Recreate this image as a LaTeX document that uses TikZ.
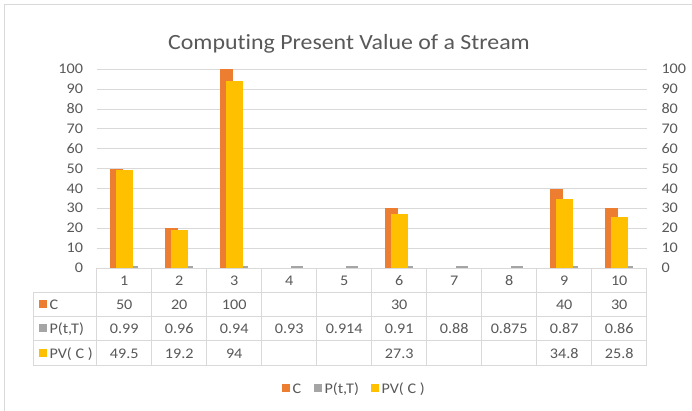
\documentclass[tikz,border=0pt]{standalone}
\usepackage{fontspec}
\setmainfont[Ligatures=NoCommon,FakeStretch=1.1]{Carlito}
\definecolor{corange}{HTML}{ED7D31}
\definecolor{cgrey}{HTML}{A5A5A5}
\definecolor{cyellow}{HTML}{FFC000}
\definecolor{cgrid}{HTML}{D9D9D9}
\definecolor{ctext}{HTML}{595959}
\begin{document}
\begin{tikzpicture}[x=1pt,y=-1pt,
  gridline/.style={draw=cgrid,line width=1pt},
  tabline/.style={draw=cgrid,line width=1pt},
  lbl/.style={inner sep=0pt,outer sep=0pt,text=ctext,font=\fontsize{14.7}{17}\selectfont},
  ttl/.style={inner sep=0pt,text=ctext,font=\fontsize{21.7}{26}\selectfont},
  barC/.style={fill=corange},
  barP/.style={fill=cgrey},
  barV/.style={fill=cyellow},
  sq/.style={minimum size=8pt,inner sep=0pt,outer sep=0pt}]
\useasboundingbox (0,0) rectangle (692,411);
\fill[white] (0,0) rectangle (692,411);
% outer frame (left and top visible)
\draw[cgrid,line width=1pt] (4,411) -- (4,5) -- (692,5);
% title
\node[ttl] (title) at (349,44) {Computing Present Value of a Stream};
% gridlines and axis labels
\foreach \v in {0,10,...,100}{
  \pgfmathsetmacro{\yy}{268-\v*1.987}
  \ifnum\v>0 \draw[gridline] (96.7,\yy) -- (646.7,\yy);\fi
  \node[lbl,anchor=base east] (l\v) at (83,\yy+4.6) {\v};
  \node[lbl,anchor=base west] (r\v) at (661.5,\yy+4.6) {\v};
}
% bars
\foreach \i/\c/\p/\pv in {0/50/0.99/49.5,1/20/0.96/19.2,2/100/0.94/94,3/0/0.93/0,4/0/0.914/0,5/30/0.91/27.3,6/0/0.88/0,7/0/0.875/0,8/40/0.87/34.8,9/30/0.86/25.8}{
  \pgfmathsetmacro{\s}{96.7+55*\i}
  \fill[barP] (\s+29,268) rectangle (\s+41,268-\p*1.987);
  \ifdim\c pt>0pt \fill[barC] (\s+13.3,268) rectangle (\s+26,268-\c*1.987);\fi
  \ifdim\pv pt>0pt \fill[barV] (\s+19,268) rectangle (\s+36,268-\pv*1.987);\fi
}
% table lines
\draw[tabline] (96.7,268) -- (646.7,268);
\foreach \yy in {292,316,340.5,365}{\draw[tabline] (33.3,\yy) -- (646.7,\yy);}
\draw[tabline] (33.3,292) -- (33.3,365);
\foreach \k in {0,...,10}{\draw[tabline] (96.7+55*\k,268) -- (96.7+55*\k,365);}
% table key column
\node[sq,fill=corange] (kc) at (43.3,304) {};
\node[lbl,anchor=base west] (kct) at (49.5,309) {C};
\node[sq,fill=cgrey] (kp) at (43.3,328) {};
\node[lbl,anchor=base west] (kpt) at (49.5,333) {P(t,T)};
\node[sq,fill=cyellow] (kv) at (43.3,352.5) {};
\node[lbl,anchor=base west] (kvt) at (49.5,358) {PV( C )};
% table values
\foreach \i/\c/\p/\pv in {1/50/0.99/49.5,2/20/0.96/19.2,3/100/0.94/94,4//0.93/,5//0.914/,6/30/0.91/27.3,7//0.88/,8//0.875/,9/40/0.87/34.8,10/30/0.86/25.8}{
  \pgfmathsetmacro{\cx}{96.7+55*\i-27.5}
  \node[lbl,anchor=base] (h\i) at (\cx,285) {\i};
  \node[lbl,anchor=base] (c\i) at (\cx,309) {\c};
  \node[lbl,anchor=base] (p\i) at (\cx,333) {\p};
  \node[lbl,anchor=base] (v\i) at (\cx,358) {\pv};
}
% legend
\node[sq,fill=corange] (lc) at (286.3,388) {};
\node[lbl,anchor=base west] (lct) at (292.5,393) {C};
\node[sq,fill=cgrey] (lp) at (318.3,388) {};
\node[lbl,anchor=base west] (lpt) at (324.5,393) {P(t,T)};
\node[sq,fill=cyellow] (lv) at (375,388) {};
\node[lbl,anchor=base west] (lvt) at (381.5,393) {PV( C )};
\end{tikzpicture}
\end{document}
